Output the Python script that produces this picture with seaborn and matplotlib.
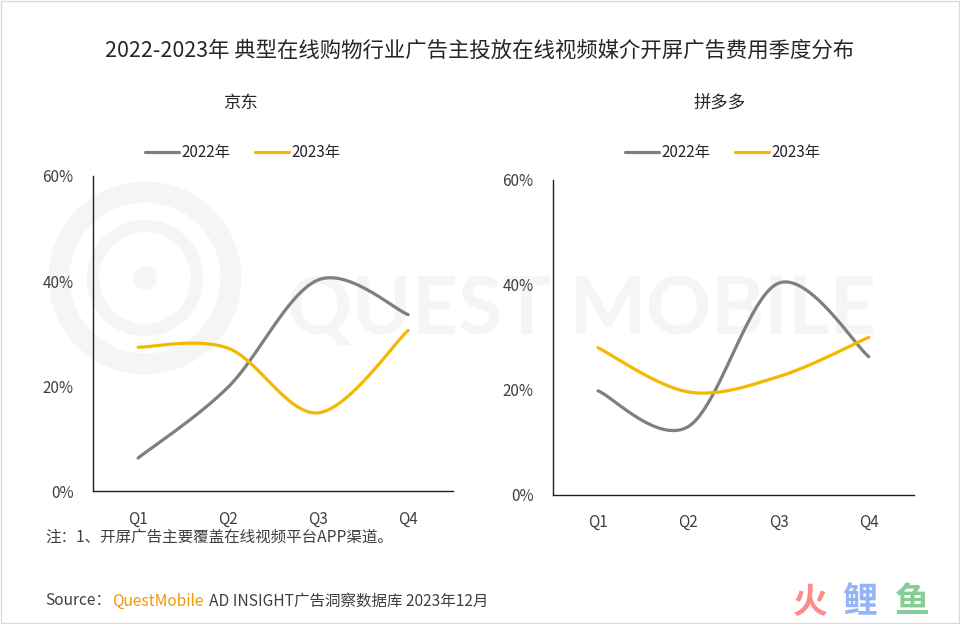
import numpy as np
import pandas as pd
import matplotlib
matplotlib.use("Agg")
import matplotlib.pyplot as plt
import seaborn as sns
from matplotlib.patches import Circle, Rectangle

sns.set_theme(style="white")
plt.rcParams['font.family'] = ['Noto Sans CJK SC', 'DejaVu Sans']

# data (share of quarterly spend, %)
quarters = ['Q1', 'Q2', 'Q3', 'Q4']
years = ['2022年', '2023年']
jd_2022 = [6.3, 19.8, 40.2, 33.6]
jd_2023 = [27.4, 27.2, 14.9, 30.6]
pdd_2022 = [19.8, 13.0, 40.3, 26.3]
pdd_2023 = [28.0, 19.6, 22.5, 30.0]

colors = {'2022年': '#7f7f7f', '2023年': '#f5b800'}


def smooth(vals, n=40):
    # Catmull-Rom style smoothing like Excel's smoothed line
    y = np.asarray(vals, dtype=float)
    x = np.arange(len(y), dtype=float)
    px = np.concatenate([[x[0]], x, [x[-1]]])
    py = np.concatenate([[y[0]], y, [y[-1]]])
    xs, ys = [], []
    for i in range(1, len(px) - 2):
        p0, p1, p2, p3 = (np.array([px[j], py[j]]) for j in (i - 1, i, i + 1, i + 2))
        c1 = p1 + (p2 - p0) / 6
        c2 = p2 - (p3 - p1) / 6
        t = np.linspace(0, 1, n)[:, None]
        b = (1 - t) ** 3 * p1 + 3 * (1 - t) ** 2 * t * c1 + 3 * (1 - t) * t ** 2 * c2 + t ** 3 * p2
        xs.append(b[:, 0])
        ys.append(b[:, 1])
    return np.concatenate(xs), np.concatenate(ys)


def curve_frame(series):
    rows = []
    for name, vals in series.items():
        sx, sy = smooth(vals)
        rows.append(pd.DataFrame({'x': sx, 'y': sy, 'year': name}))
    return pd.concat(rows, ignore_index=True)


fig = plt.figure(figsize=(9.6, 6.24), dpi=100)

# background layer in pixel coords: watermark, logo, border
bg = fig.add_axes([0, 0, 1, 1], zorder=-1)
bg.set_xlim(0, 960)
bg.set_ylim(624, 0)
bg.axis('off')
wm = '#f5f5f5'
bg.add_patch(Circle((145, 278), 86, fill=False, ec=wm, lw=15))
bg.add_patch(Circle((145, 278), 52, fill=False, ec=wm, lw=9))
bg.add_patch(Circle((145, 278), 11, color=wm))
bg.text(287, 312, 'QUEST MOBILE', fontsize=58, color=wm, ha='left', va='center',
        family='Lato', weight='bold')
bg.text(810, 602, '火', ha='center', va='center', fontsize=25, color='#ff8a8a', weight='bold')
bg.text(860, 602, '鲤', ha='center', va='center', fontsize=25, color='#93b4f7', weight='bold')
bg.text(912, 602, '鱼', ha='center', va='center', fontsize=25, color='#86cc95', weight='bold')
bg.add_patch(Rectangle((0.5, 0.5), 958.5, 622.5, fill=False, ec='#d9d9d9', lw=1.0))

ax1 = fig.add_axes([0.097, 0.213, 0.375, 0.505])
ax2 = fig.add_axes([0.576, 0.207, 0.376, 0.505])

panels = [(ax1, {'2022年': jd_2022, '2023年': jd_2023}, '京东', 0.25),
          (ax2, {'2022年': pdd_2022, '2023年': pdd_2023}, '拼多多', 0.75)]

for ax, series, name, cx in panels:
    ax.patch.set_alpha(0)
    df = curve_frame(series)
    sns.lineplot(data=df, x='x', y='y', hue='year', palette=colors, sort=False,
                 linewidth=2.3, ax=ax, legend=False)
    ax.set_xlim(-0.5, 3.5)
    ax.set_ylim(0, 60)
    ax.set_xticks(range(len(quarters)))
    ax.set_xticklabels(quarters)
    ax.set_yticks([0, 20, 40, 60])
    ax.set_yticklabels(['0%', '20%', '40%', '60%'])
    ax.set_xlabel('')
    ax.set_ylabel('')
    ax.tick_params(axis='both', length=0, labelsize=11, labelcolor='#404040')
    ax.tick_params(axis='x', pad=14)
    ax.tick_params(axis='y', pad=14)
    for s in ['top', 'right']:
        ax.spines[s].set_visible(False)
    for s in ['left', 'bottom']:
        ax.spines[s].set_color('#202020')
        ax.spines[s].set_linewidth(1.0)
    ax.grid(False)

    fig.text(cx, 0.835, name, ha='center', va='center', fontsize=12.5, color='#262626')
    handles = [plt.Line2D([], [], color=colors[y], lw=2.3) for y in years]
    fig.legend(handles, years, loc='center', bbox_to_anchor=(cx + 0.003, 0.755), ncol=2,
               frameon=False, fontsize=11, handlelength=2.2, handletextpad=0.2,
               columnspacing=1.6, labelcolor='#262626')

fig.text(0.5, 0.918, '2022-2023年 典型在线购物行业广告主投放在线视频媒介开屏广告费用季度分布',
         ha='center', va='center', fontsize=15.4, color='#262626')
fig.text(0.047, 0.139, '注：1、开屏广告主要覆盖在线视频平台APP渠道。', ha='left', va='center',
         fontsize=11.2, color='#404040')
fig.text(0.047, 0.037, 'Source：', ha='left', va='center', fontsize=11.2, color='#404040')
fig.text(0.117, 0.037, 'QuestMobile', ha='left', va='center', fontsize=11.2, color='#f39800')
fig.text(0.218, 0.037, 'AD INSIGHT广告洞察数据库 2023年12月', ha='left', va='center',
         fontsize=11.2, color='#404040')

fig.savefig('out.png', dpi=100, facecolor='white')
